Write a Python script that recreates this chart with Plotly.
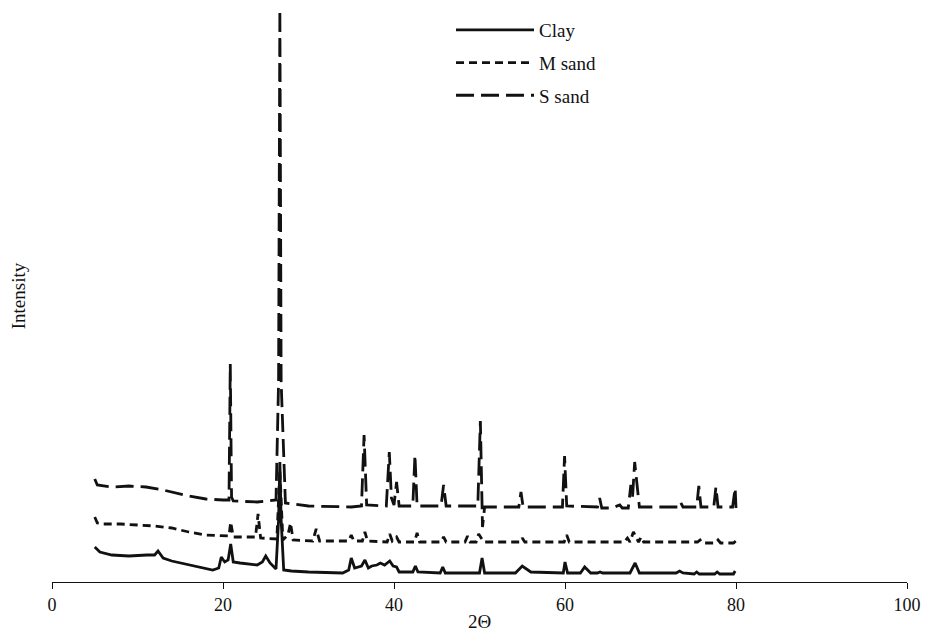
import plotly.graph_objects as go

# ---- Data (2-theta in degrees, intensity in arbitrary units) ----
clay_2theta = [5.0, 5.6, 7.0, 9.0, 11.1, 12.0, 12.4, 13.0, 14.0, 15.0, 17.0, 18.8, 19.5,
               19.8, 20.2, 20.6, 20.9, 21.2, 22.0, 24.0, 24.6, 25.0, 25.5, 26.2, 26.5,
               26.65, 26.8, 27.1, 28.0, 30.0, 34.0, 34.7, 35.0, 35.4, 36.2, 36.6, 37.0,
               37.4, 38.0, 38.4, 38.9, 39.5, 39.9, 40.3, 40.6, 42.2, 42.5, 42.8, 45.4,
               45.7, 46.0, 50.0, 50.3, 50.6, 54.2, 55.0, 56.0, 59.8, 60.0, 60.3, 61.8,
               62.3, 63.0, 63.8, 64.1, 64.4, 67.6, 68.2, 68.7, 73.0, 73.4, 73.8, 75.1,
               75.4, 75.7, 77.5, 77.8, 78.1, 79.7, 79.9]
clay_intensity = [35, 30, 27, 26, 27, 27, 31, 24, 21, 19, 15, 12, 14,
                  25, 20, 22, 38, 20, 19, 17, 20, 26, 19, 13, 62,
                  120, 62, 12, 11, 10, 9, 12, 24, 14, 16, 22, 14,
                  16, 17, 19, 17, 21, 16, 15, 10, 10, 16, 10, 9,
                  15, 9, 9, 24, 9, 9, 16, 10, 9, 20, 9, 9,
                  15, 9, 9, 10, 9, 9, 19, 9, 9, 11, 9, 8,
                  10, 8, 8, 10, 8, 8, 11]

msand_2theta = [5.0, 5.3, 6.0, 8.0, 10.0, 12.0, 14.0, 16.0, 18.0, 20.0, 20.7, 20.9, 21.2,
                22.0, 23.8, 24.1, 24.4, 26.3, 26.65, 27.0, 27.6, 27.9, 28.2, 30.5, 30.9,
                31.3, 34.7, 35.0, 35.3, 36.3, 36.6, 36.9, 39.2, 39.5, 39.8, 40.3, 40.6,
                42.4, 42.7, 43.0, 45.5, 45.8, 46.1, 48.3, 48.6, 48.9, 49.6, 49.9, 50.5,
                54.8, 55.0, 55.3, 59.9, 60.2, 60.5, 66.9, 67.3, 67.6, 68.0, 68.3, 68.6,
                68.9, 69.2, 75.5, 75.8, 76.1, 77.6, 77.9, 78.2, 79.7, 80.0]
msand_intensity = [65, 59, 58, 58, 57, 56, 54, 50, 47, 46, 46, 60, 45,
                   45, 45, 68, 44, 43, 112, 42, 47, 59, 42, 41, 53,
                   41, 41, 47, 41, 41, 50, 41, 40, 48, 41, 45, 40,
                   40, 49, 40, 40, 45, 40, 40, 46, 40, 40, 48, 40,
                   40, 44, 40, 40, 47, 40, 40, 44, 40, 50, 45, 40,
                   45, 40, 40, 42, 39, 39, 42, 39, 39, 41]

ssand_2theta = [5.0, 5.3, 7.0, 9.0, 11.0, 13.0, 16.0, 18.0, 20.0, 20.7, 20.85, 21.0, 21.2,
                24.0, 26.2, 26.5, 26.65, 26.8, 27.3, 30.0, 35.0, 36.2, 36.5, 36.8, 39.1,
                39.45, 39.7, 40.0, 40.3, 40.6, 42.2, 42.45, 42.7, 45.5, 45.8, 46.1, 49.8,
                50.1, 50.35, 50.6, 51.0, 54.6, 54.85, 55.1, 59.7, 59.95, 60.2, 63.8, 64.05,
                64.3, 65.5, 66.4, 66.7, 67.4, 67.7, 67.9, 68.15, 68.4, 68.7, 73.2, 73.5,
                73.8, 75.4, 75.65, 75.9, 77.4, 77.65, 77.9, 79.6, 79.9, 80.0]
ssand_intensity = [103, 97, 95, 96, 95, 92, 86, 83, 82, 82, 218, 85, 81,
                   80, 82, 200, 572, 200, 79, 76, 75, 76, 147, 77, 76,
                   130, 84, 77, 100, 76, 76, 127, 76, 76, 97, 76, 76,
                   161, 55, 75, 75, 75, 90, 75, 75, 126, 76, 75, 84,
                   74, 74, 77, 74, 74, 97, 85, 120, 100, 75, 75, 80,
                   75, 75, 96, 75, 75, 95, 75, 75, 94, 74]

# ---- Axis ticks ----
x_tick_vals = [0, 20, 40, 60, 80, 100]
x_tick_text = ["0", "20", "40", "60", "80", "100"]

series_names = ["Clay", "M sand", "S sand"]

FONT = "Liberation Serif, Times New Roman, serif"

fig = go.Figure()
fig.add_trace(go.Scatter(x=clay_2theta, y=clay_intensity, mode="lines", name=series_names[0],
                         legendgroup="a",
                         line=dict(color="#111111", width=2.8)))
fig.add_trace(go.Scatter(x=msand_2theta, y=msand_intensity, mode="lines", name=series_names[1],
                         legendgroup="b",
                         line=dict(color="#111111", width=2.8, dash="8px,5px")))
fig.add_trace(go.Scatter(x=ssand_2theta, y=ssand_intensity, mode="lines", name=series_names[2],
                         legendgroup="c",
                         line=dict(color="#111111", width=2.8, dash="18px,7px")))

fig.update_layout(
    width=932, height=636,
    margin=dict(l=44, r=33, t=2, b=62, autoexpand=False),
    paper_bgcolor="white", plot_bgcolor="white",
    font=dict(family=FONT, size=16, color="#111111"),
    showlegend=True,
    legend=dict(
        x=(451 - 52) / 855, y=571 / 572, xanchor="left", yanchor="top",
        font=dict(family=FONT, size=19, color="#111111"),
        bgcolor="rgba(0,0,0,0)", borderwidth=0,
        traceorder="grouped", tracegroupgap=5, itemwidth=78,
    ),
    xaxis=dict(
        range=[0, 100], tickvals=x_tick_vals, ticktext=x_tick_text,
        showline=True, linecolor="#111111", linewidth=1.2,
        ticks="outside", ticklen=6, tickwidth=1.2, tickcolor="#111111",
        showgrid=False, zeroline=False,
        tickfont=dict(family=FONT, size=18),
        title=dict(text="2Θ", font=dict(family=FONT, size=19), standoff=0),
    ),
    yaxis=dict(
        range=[0, 572], showline=False, showticklabels=False, ticks="",
        showgrid=False, zeroline=False,
        title=dict(text="Intensity", font=dict(family=FONT, size=19), standoff=20),
    ),
)

fig.write_html("out.html")
